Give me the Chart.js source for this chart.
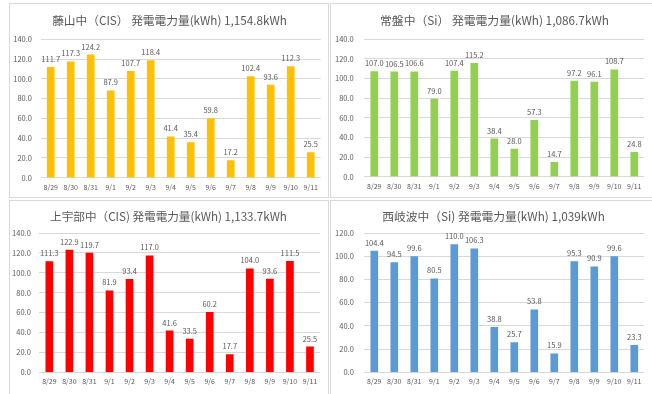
<!DOCTYPE html>
<html>
<head>
<meta charset="utf-8">
<script src="https://cdn.jsdelivr.net/npm/chart.js@4/dist/chart.umd.min.js"></script>
<style>
  html, body { margin: 0; padding: 0; background: #ffffff; }
  #wrap { position: relative; width: 652px; height: 394px; overflow: hidden; background: #fff; }
  .frame { position: absolute; border: 1px solid #d9d9d9; box-sizing: border-box; }
  canvas { position: absolute; }
</style>
</head>
<body>
<div id="wrap">
  <div class="frame" style="left:9px;top:3px;width:320px;height:195px;"></div>
  <div class="frame" style="left:330px;top:3px;width:324px;height:195px;"></div>
  <div class="frame" style="left:9px;top:200px;width:320px;height:196px;"></div>
  <div class="frame" style="left:330px;top:200px;width:324px;height:196px;"></div>
  <canvas id="c1" width="318" height="195" style="left:10px;top:4px;"></canvas>
  <canvas id="c2" width="320" height="195" style="left:330px;top:4px;"></canvas>
  <canvas id="c3" width="318" height="192" style="left:10px;top:200px;"></canvas>
  <canvas id="c4" width="320" height="192" style="left:330px;top:200px;"></canvas>
</div>
<script>
const categories = ['8/29','8/30','8/31','9/1','9/2','9/3','9/4','9/5','9/6','9/7','9/8','9/9','9/10','9/11'];
const fujiyamaValues  = [111.7,117.3,124.2,87.9,107.7,118.4,41.4,35.4,59.8,17.2,102.4,93.6,112.3,25.5];
const tokiwaValues    = [107.0,106.5,106.6,79.0,107.4,115.2,38.4,28.0,57.3,14.7,97.2,96.1,108.7,24.8];
const kamiubeValues   = [111.3,122.9,119.7,81.9,93.4,117.0,41.6,33.5,60.2,17.7,104.0,93.6,111.5,25.5];
const nishikiwaValues = [104.4,94.5,99.6,80.5,110.0,106.3,38.8,25.7,53.8,15.9,95.3,90.9,99.6,23.3];
const yTicks140 = [0,20,40,60,80,100,120,140];
const yTicks120 = [0,20,40,60,80,100,120];
const fujiyamaTitle  = '藤山中（CIS） 発電電力量(kWh) 1,154.8kWh';
const tokiwaTitle    = '常盤中（Si） 発電電力量(kWh) 1,086.7kWh';
const kamiubeTitle   = '上宇部中（CIS) 発電電力量(kWh) 1,133.7kWh';
const nishikiwaTitle = '西岐波中（Si) 発電電力量(kWh) 1,039kWh';

const FONT = "'Noto Sans CJK JP', 'Noto Sans', sans-serif";
const TEXT = '#595959';
Chart.defaults.font.family = FONT;
Chart.defaults.color = TEXT;

function fitSize(text, targetWidth) {
  const c = document.createElement('canvas').getContext('2d');
  c.font = '100px ' + FONT;
  return 100 * targetWidth / c.measureText(text).width;
}

const valueLabels = {
  id: 'valueLabels',
  afterDatasetsDraw(chart) {
    const ctx = chart.ctx;
    ctx.save();
    ctx.font = '7.5px ' + FONT;
    ctx.fillStyle = TEXT;
    ctx.textAlign = 'center';
    ctx.textBaseline = 'bottom';
    chart.data.datasets.forEach((ds, i) => {
      chart.getDatasetMeta(i).data.forEach((bar, j) => {
        ctx.fillText(ds.data[j].toFixed(1), bar.x, bar.y - 4.5);
      });
    });
    ctx.restore();
  }
};

function makeChart(id, title, values, color, yTicks, lay) {
  const size = fitSize(title, lay.titleWidth);
  const titleBox = size * 1.2;
  const titleTop = lay.titleCenter - titleBox / 2;
  const centerTitle = {
    id: 'centerTitle',
    afterLayout(chart) {
      const tb = chart.titleBlock;
      if (!tb) return;
      const half = Math.min(lay.titleX, chart.width - lay.titleX);
      tb.left = lay.titleX - half;
      tb.right = lay.titleX + half;
      tb.width = 2 * half;
    }
  };
  new Chart(document.getElementById(id), {
    type: 'bar',
    data: {
      labels: categories,
      datasets: [{ data: values, backgroundColor: color, barThickness: 7 }]
    },
    options: {
      responsive: false,
      animation: false,
      devicePixelRatio: 1,
      layout: { padding: { left: 0, right: lay.padRight, top: 0, bottom: 0 } },
      plugins: {
        legend: { display: false },
        tooltip: { enabled: false },
        title: {
          display: true,
          text: title,
          color: TEXT,
          font: { size: size, weight: 'normal', family: FONT, lineHeight: 1.2 },
          padding: { top: titleTop, bottom: lay.plotTop - titleTop - titleBox }
        }
      },
      scales: {
        x: {
          grid: { display: false, drawTicks: false },
          border: { display: false },
          ticks: { font: { size: 7 }, color: TEXT, padding: 5, maxRotation: 0, autoSkip: false },
          afterFit(s) { s.height = lay.xHeight; }
        },
        y: {
          min: yTicks[0],
          max: yTicks[yTicks.length - 1],
          grid: { color: '#d9d9d9', drawTicks: false, lineWidth: 1 },
          border: { display: false },
          afterBuildTicks(s) { s.ticks = yTicks.map(v => ({ value: v })); },
          ticks: { font: { size: 7.5 }, color: TEXT, padding: lay.tickPad, callback: v => Number(v).toFixed(1) },
          afterFit(s) { s.width = lay.yWidth; }
        }
      }
    },
    plugins: [valueLabels, centerTitle]
  });
}

makeChart('c1', fujiyamaTitle, fujiyamaValues, '#FFC000', yTicks140,
  { yWidth: 30.7, padRight: 7.3, tickPad: 8.7, titleWidth: 235, titleX: 159.5, titleCenter: 17, plotTop: 35.3, xHeight: 21.3 });
makeChart('c2', tokiwaTitle, tokiwaValues, '#92D050', yTicks140,
  { yWidth: 34.3, padRight: 5.7, tickPad: 10.6, titleWidth: 229, titleX: 164.5, titleCenter: 17, plotTop: 35, xHeight: 22.3 });
makeChart('c3', kamiubeTitle, kamiubeValues, '#FF0000', yTicks140,
  { yWidth: 29.3, padRight: 8, tickPad: 8.5, titleWidth: 237, titleX: 158.5, titleCenter: 17, plotTop: 33, xHeight: 19.7 });
makeChart('c4', nishikiwaTitle, nishikiwaValues, '#5B9BD5', yTicks120,
  { yWidth: 34.3, padRight: 5.7, tickPad: 10.5, titleWidth: 223, titleX: 163.5, titleCenter: 17, plotTop: 33, xHeight: 19.7 });
</script>
</body>
</html>
